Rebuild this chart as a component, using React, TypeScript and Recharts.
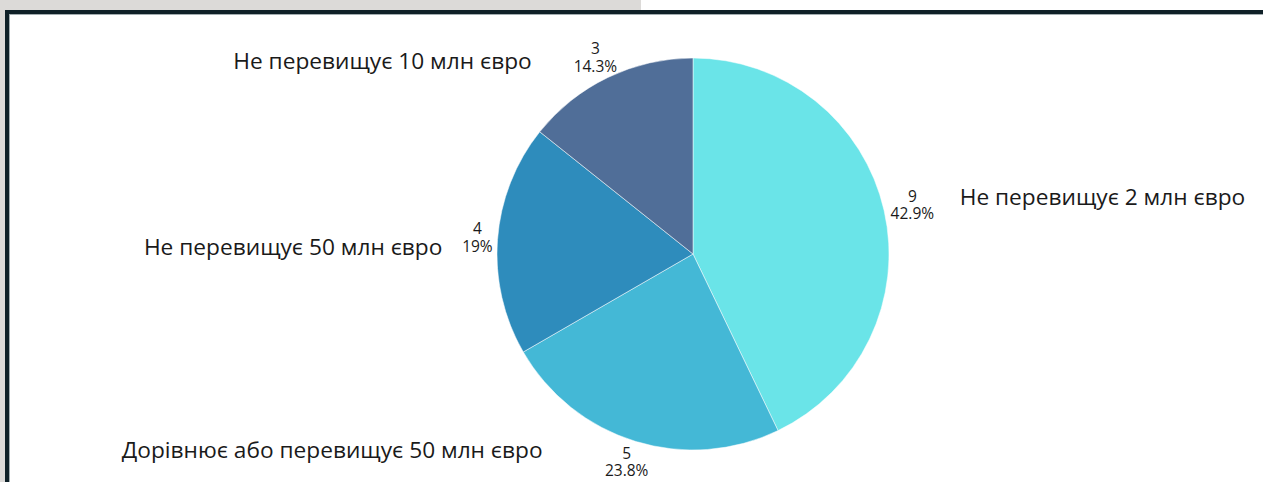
import React from 'react'
import { PieChart, Pie, Cell } from 'recharts'

const categories = [
  'Не перевищує 2 млн євро',
  'Дорівнює або перевищує 50 млн євро',
  'Не перевищує 50 млн євро',
  'Не перевищує 10 млн євро',
]
const counts = [9, 5, 4, 3]
const COLORS = ['#6ae4e8', '#44b8d6', '#2e8cbc', '#506e98']

const data = categories.map((name, i) => ({ name, value: counts[i] }))

const RAD = Math.PI / 180
const FONT = '"Open Sans", "Noto Sans", sans-serif'

const formatPct = (p: number) => `${parseFloat((p * 100).toFixed(1))}%`

const renderLabel = (props: any) => {
  const { cx, cy, midAngle, outerRadius, percent, value, name } = props
  const ux = Math.cos(-midAngle * RAD)
  const uy = Math.sin(-midAngle * RAD)
  const pct = formatPct(percent)
  const w = pct.length * 8.8
  const h = 30
  const px = cx + (outerRadius + 7) * ux
  const py = cy + (outerRadius + 7) * uy
  const bx = px + (w / 2) * ux
  const by = py + (h / 2) * uy
  const side = ux >= 0 ? 1 : -1
  // name sits beside the value/percent block, pushed out more for slices near top/bottom
  const gap = 20 + 24 * Math.abs(uy) + 20 * Math.max(0, uy)
  const nx = bx + side * (w / 2 + gap)
  const ny = by + 8 - 9 * ux - 16 * Math.max(0, uy)
  return (
    <g fontFamily={FONT} fill="#1a1a1a">
      <text x={bx} y={by - 3.5} textAnchor="middle" fontSize={15.5}>
        {value}
      </text>
      <text x={bx} y={by + 14} textAnchor="middle" fontSize={15.5}>
        {pct}
      </text>
      <text x={nx} y={ny} textAnchor={side > 0 ? 'start' : 'end'} fontSize={22.7}>
        {name}
      </text>
    </g>
  )
}

const App = () => (
  <div
    style={{
      position: 'fixed',
      left: 0,
      top: 0,
      width: 1263,
      height: 482,
      background: '#fff',
      overflow: 'hidden',
    }}>
    <div style={{ position: 'absolute', left: 0, top: 0, width: 641, height: 10, background: '#dcdad8' }} />
    <div style={{ position: 'absolute', left: 0, top: 0, width: 5, height: 482, background: '#dcdad8' }} />
    <div
      style={{
        position: 'absolute',
        left: 5,
        top: 10,
        width: 1258,
        height: 472,
        boxSizing: 'border-box',
        borderTop: '4px solid #0f2027',
        borderLeft: '4px solid #0f2027',
      }}>
      <div
        style={{
          width: '100%',
          height: '100%',
          boxSizing: 'border-box',
          borderTop: '1px solid #a3adb0',
          borderLeft: '1px solid #a3adb0',
        }}>
        <PieChart width={1253} height={467} margin={{ top: 0, right: 0, bottom: 0, left: 0 }}>
          <Pie
            data={data}
            dataKey="value"
            nameKey="name"
            cx={683}
            cy={239}
            outerRadius={196}
            startAngle={90}
            endAngle={-270}
            stroke="#fff"
            strokeWidth={0.5}
            labelLine={false}
            label={renderLabel}
            isAnimationActive={false}>
            {data.map((_, i) => (
              <Cell key={i} fill={COLORS[i]} />
            ))}
          </Pie>
        </PieChart>
      </div>
    </div>
  </div>
)

export default App
